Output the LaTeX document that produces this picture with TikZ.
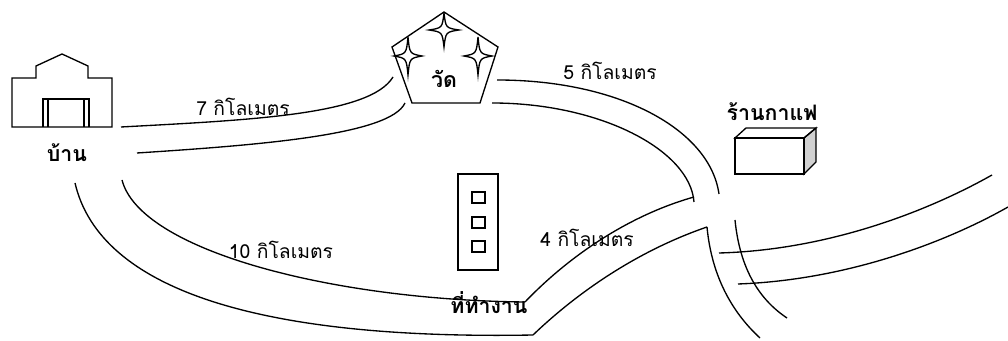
\documentclass[tikz,border=0pt]{standalone}
\usepackage{fontspec}
\newfontfamily\thaifont[Script=Thai]{Loma}
\tikzset{
  road/.style={line width=1pt},
  outline/.style={line width=1pt, line join=miter},
  dist/.style={font=\thaifont\fontsize{14.5}{16}\selectfont, inner sep=0pt},
  place/.style={font=\thaifont\bfseries\fontsize{16}{18}\selectfont, inner sep=0pt},
  sparkle/.style={outline, fill=white},
}
\begin{document}
\begin{tikzpicture}[x=0.75pt, y=-0.75pt]
\useasboundingbox (0,0) rectangle (1008,341);

% house
\draw[outline] (12,127) -- (12,78) -- (36,78) -- (36,66) -- (62,54) -- (88,66)
  -- (88,78) -- (112,78) -- (112,127) -- cycle;
\draw[outline] (43,127) -- (43,99) -- (89,99) -- (89,127);
\draw[outline] (48,99) -- (48,127) (84,99) -- (84,127);
\node[place] (home) at (67,153) {บ้าน};

% temple
\draw[outline] (444,12) -- (498,47) -- (480,103) -- (412,103) -- (392,47) -- cycle;
\foreach \cx/\cy/\w/\h in {444/30/15/17, 408/56/14/19, 478/56/14/19}{
  \begin{scope}[shift={(\cx,\cy)}, xscale=\w, yscale=\h]
    \draw[sparkle] (0,-1) .. controls (0.12,-0.12) .. (1,0)
      .. controls (0.12,0.12) .. (0,1) .. controls (-0.12,0.12) .. (-1,0)
      .. controls (-0.12,-0.12) .. cycle;
  \end{scope}
}
\node[place] (temple) at (444,79) {วัด};

% office
\draw[outline] (458,174) rectangle (498,270);
\foreach \wy in {192,217,241}{
  \draw[outline] (472,\wy) rectangle (485,\wy+11);
}
\node[place] (office) at (489,303) {ที่ทำงาน};

% coffee shop
\draw[outline, fill=black!18] (804,138) -- (816,128) -- (816,162) -- (804,174) -- cycle;
\draw[outline] (735,138) -- (746,128) -- (816,128) -- (804,138) -- cycle;
\draw[outline] (735,138) rectangle (804,174);
\node[place] (cafe) at (772,112) {ร้านกาแฟ};

% roads
\draw[road] (121,127) .. controls (250,120) and (370,115) .. (393,77);
\draw[road] (137,153) .. controls (260,145) and (390,135) .. (405,103);

\draw[road] (497,80) .. controls (620,80) and (710,130) .. (719,194);
\draw[road] (492,103) .. controls (600,103) and (690,150) .. (694,202);

\draw[road] (122,180) .. controls (140,250) and (330,300) .. (525,302);
\draw[road] (75,183) .. controls (100,290) and (260,340) .. (533,335);

\draw[road] (525,302) .. controls (570,255) and (630,215) .. (694,197);
\draw[road] (533,335) .. controls (580,290) and (640,250) .. (707,227);

\draw[road] (707,227) .. controls (712,280) and (735,315) .. (760,338);
\draw[road] (735,220) .. controls (740,270) and (760,300) .. (787,318);

\draw[road] (719,253) .. controls (830,250) and (930,210) .. (992,175);
\draw[road] (738,284) .. controls (850,280) and (950,240) .. (1008,207);

% distances
\node[dist] (d7) at (243,107) {7 กิโลเมตร};
\node[dist] (d5) at (610,71) {5 กิโลเมตร};
\node[dist] (d10) at (281,250) {10 กิโลเมตร};
\node[dist] (d4) at (587,238) {4 กิโลเมตร};
\end{tikzpicture}
\end{document}
